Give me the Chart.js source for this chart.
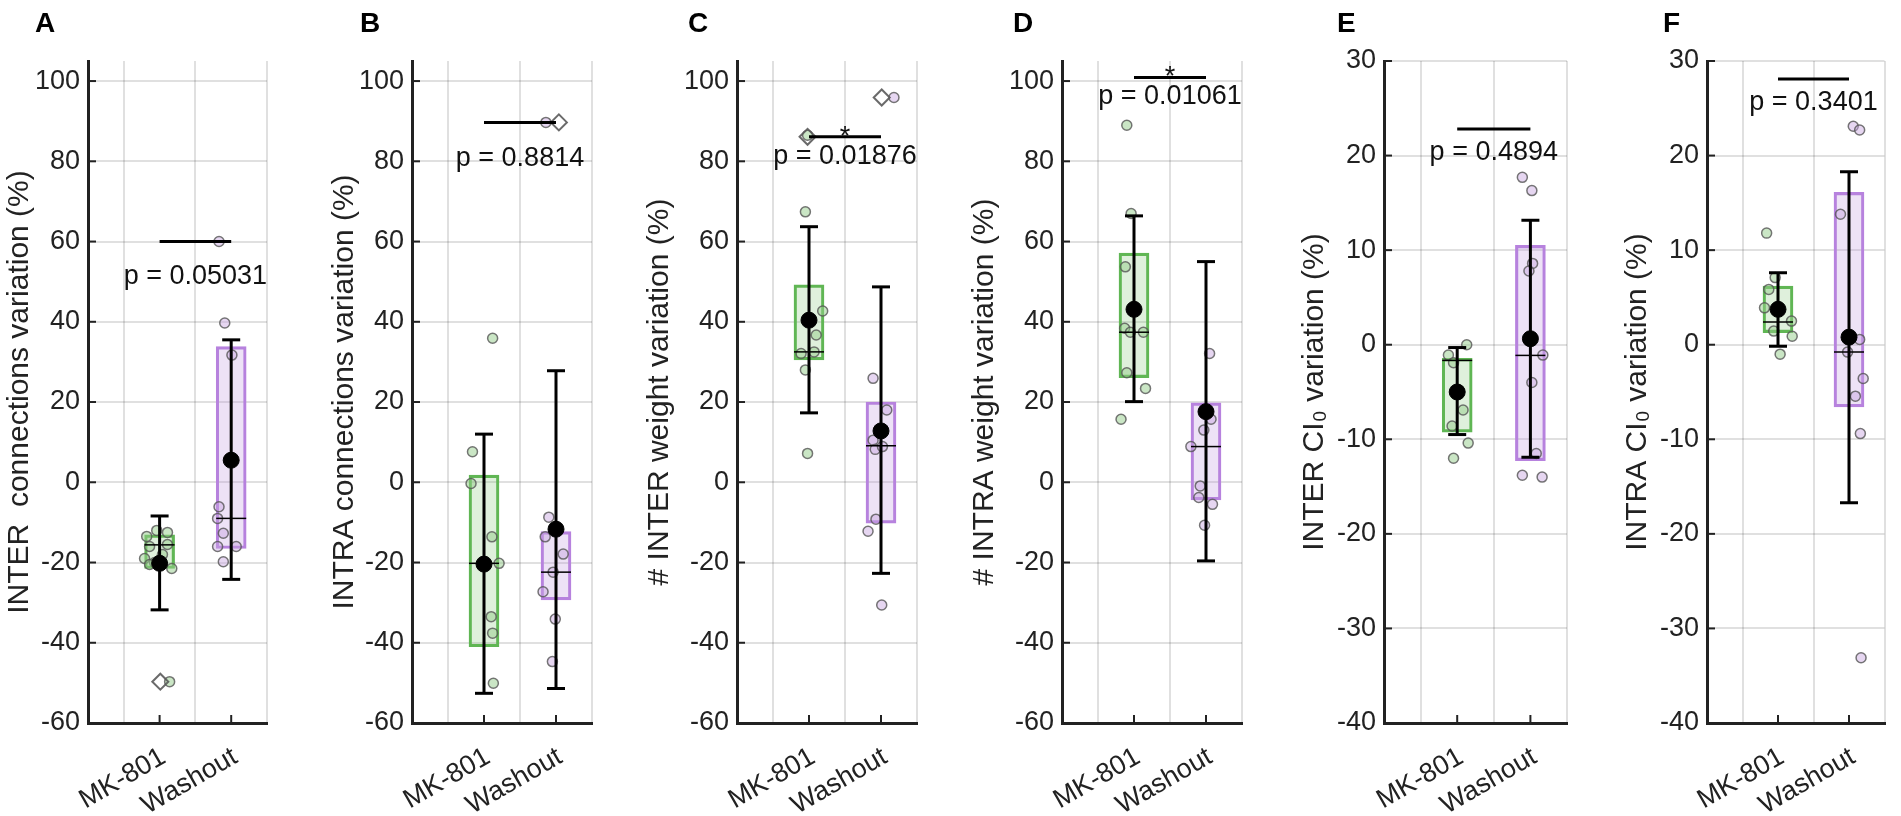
<!DOCTYPE html>
<html>
<head>
<meta charset="utf-8">
<script src="https://cdn.jsdelivr.net/npm/chart.js@4.4.0/dist/chart.umd.min.js"></script>
<style>
  html, body { margin: 0; padding: 0; background: #fff; width: 1901px; height: 816px; overflow: hidden; }
  canvas { position: absolute; top: 0; }
</style>
</head>
<body>
<canvas id="pA"></canvas>
<canvas id="pB"></canvas>
<canvas id="pC"></canvas>
<canvas id="pD"></canvas>
<canvas id="pE"></canvas>
<canvas id="pF"></canvas>
<script>
const groups = ["MK-801", "Washout"];
const panelLetters = ["A", "B", "C", "D", "E", "F"];
const yTitles = [
  "INTER  connections variation (%)",
  "INTRA connections variation (%)",
  "# INTER weight variation (%)",
  "# INTRA weight variation (%)",
  "INTER CI\u2080 variation (%)",
  "INTRA CI\u2080 variation (%)"
];
const yTicksWide = [-60, -40, -20, 0, 20, 40, 60, 80, 100];
const yTicksNarrow = [-40, -30, -20, -10, 0, 10, 20, 30];

// single animals: [jittered x, value]
const mkA = [[0.82,-13.5],[0.96,-12],[1.11,-12.5],[0.79,-19],[1.11,-15.5],[0.86,-16],[1.17,-21.5],[0.93,-20],[1.04,-18],[0.86,-20.5],[1.14,-49.7]];
const washA = [[1.83,60],[1.91,39.7],[2.01,31.7],[1.83,-6.1],[1.81,-9],[1.89,-12.7],[1.81,-16],[2.07,-16],[1.89,-19.8]];
const mkB = [[1.12,35.9],[0.84,7.6],[0.82,-0.3],[1.11,-13.6],[1.21,-20.2],[1.10,-33.5],[1.12,-37.6],[1.13,-50.1]];
const washB = [[1.86,89.7],[1.90,-8.7],[1.85,-13.6],[2.10,-17.9],[1.96,-22.4],[1.82,-27.3],[1.99,-34.1],[1.95,-44.7]];
const mkC = [[0.98,86.5],[0.95,67.4],[1.19,42.7],[1.10,36.7],[0.89,32.1],[1.07,32.5],[0.95,28],[0.98,7.2]];
const washC = [[2.18,95.9],[1.89,25.9],[2.08,18],[1.89,10.5],[1.92,8.2],[2.02,8.9],[1.93,-9.2],[1.82,-12.2],[2.01,-30.6]];
const mkD = [[0.90,89],[0.96,67],[0.88,53.7],[0.87,38.4],[0.95,37.4],[1.13,37.4],[0.90,27.3],[1.16,23.4],[0.82,15.7]];
const washD = [[2.05,32.1],[2.07,15.7],[1.97,13],[1.79,8.9],[1.92,-0.9],[1.90,-3.8],[2.09,-5.5],[1.98,-10.7]];
const mkE = [[1.13,0.0],[0.88,-1.1],[0.95,-1.9],[1.08,-6.9],[0.93,-8.6],[1.15,-10.4],[0.95,-12.0]];
const washE = [[1.89,17.7],[2.02,16.3],[2.03,8.6],[1.98,7.8],[2.17,-1.1],[2.02,-4.0],[2.08,-11.5],[1.89,-13.8],[2.16,-14.0]];
const mkF = [[0.84,11.8],[0.96,7.1],[0.87,5.85],[0.81,3.9],[1.19,2.5],[0.94,1.44],[1.20,0.9],[1.03,-1.0]];
const washF = [[2.06,23.1],[2.15,22.7],[1.88,13.8],[2.15,0.56],[1.98,-0.78],[2.20,-3.57],[2.09,-5.44],[2.16,-9.4],[2.17,-33.1]];

// outliers (diamonds)
const outA = [[1.01,-49.7]];
const outB = [[2.04,89.7]];
const outC = [[0.98,86.1],[2.01,95.9]];
const outD = [];
const outE = [];
const outF = [];

// per panel [MK-801, Washout]
const boxLow  = [[-21.5,-16.5],[-41,-29.3],[30.5,-10.2],[26.1,-4.4],[-9.25,-12.25],[1.27,-6.57]];
const boxHigh = [[-13.1,33.8],[1.8,-12.3],[49.2,20],[57.1,19.8],[-1.45,10.5],[6.2,16.1]];
const medians = [[-15.6,-9.0],[-20.2,-22.4],[32.5,9.1],[37.4,8.9],[-1.66,-1.13],[2.4,-0.78]];
const means   = [[-20.2,5.5],[-20.4,-11.7],[40.4,12.8],[43.1,17.6],[-5.0,0.63],[3.74,0.8]];
const sdLow   = [[-31.8,-24.2],[-52.6,-51.4],[17.3,-22.7],[20.1,-19.6],[-9.5,-11.9],[-0.15,-16.7]];
const sdHigh  = [[-8.4,35.5],[12.0,27.8],[63.7,48.7],[66.4,55.0],[-0.3,13.16],[7.62,18.3]];

const sigY = [60, 89.7, 86.1, 100.9, 22.8, 28.1];
const pValues = ["p = 0.05031", "p = 0.8814", "p = 0.01876", "p = 0.01061", "p = 0.4894", "p = 0.3401"];
const stars = [false, false, true, true, false, false];

const mkPts = [mkA, mkB, mkC, mkD, mkE, mkF];
const washPts = [washA, washB, washC, washD, washE, washF];
const outPts = [outA, outB, outC, outD, outE, outF];

// page layout (pixels) for each panel
const layout = [
  { id: "pA", left: 0,    width: 325, axis: 88,   right: 267,  letterX: 35, textY: 51.2, yMin: -60, yMax: 105, ticks: yTicksWide },
  { id: "pB", left: 325,  width: 315, axis: 412,  right: 592,  letterX: 35, textY: 80.8, yMin: -60, yMax: 105, ticks: yTicksWide },
  { id: "pC", left: 640,  width: 325, axis: 737,  right: 917,  letterX: 48, textY: 81.1, yMin: -60, yMax: 105, ticks: yTicksWide },
  { id: "pD", left: 965,  width: 330, axis: 1062, right: 1242, letterX: 48, textY: 96.1, yMin: -60, yMax: 105, ticks: yTicksWide },
  { id: "pE", left: 1295, width: 323, axis: 1384, right: 1567, letterX: 42, textY: 20.3, yMin: -40, yMax: 30,  ticks: yTicksNarrow },
  { id: "pF", left: 1618, width: 283, axis: 1707, right: 1892, letterX: 45, textY: 25.6, yMin: -40, yMax: 30,  ticks: yTicksNarrow }
];

const FONT = '"Liberation Sans", Arial, Helvetica, sans-serif';
const INK = "#222";
Chart.defaults.font.family = FONT;
Chart.defaults.color = INK;

const GREEN_EDGE = "rgb(96,182,84)";
const GREEN_FILL = "rgba(110,185,95,0.22)";
const PURPLE_EDGE = "rgb(183,130,222)";
const PURPLE_FILL = "rgba(185,140,220,0.25)";
const GREEN_DOT = "rgba(150,205,140,0.5)";
const PURPLE_DOT = "rgba(200,165,225,0.45)";
const DOT_EDGE = "rgba(85,85,85,0.8)";

// letters, p values, star and inward tick marks
const panelDeco = {
  id: "panelDeco",
  afterDraw(chart, args, o) {
    const { ctx, chartArea, scales: { x, y } } = chart;
    ctx.save();
    ctx.strokeStyle = INK;
    ctx.lineWidth = 2;
    y.ticks.forEach(t => {
      const py = y.getPixelForValue(t.value);
      ctx.beginPath();
      ctx.moveTo(chartArea.left, py);
      ctx.lineTo(chartArea.left + 8, py);
      ctx.stroke();
    });
    x.ticks.forEach(t => {
      const px = x.getPixelForValue(t.value);
      ctx.beginPath();
      ctx.moveTo(px, chartArea.bottom);
      ctx.lineTo(px, chartArea.bottom - 8);
      ctx.stroke();
    });

    ctx.fillStyle = "#000";
    ctx.textAlign = "left";
    ctx.textBaseline = "alphabetic";
    ctx.font = "bold 28px " + FONT;
    ctx.fillText(o.letter, o.letterX, 32);

    const cx = x.getPixelForValue(1.5);
    ctx.fillStyle = "#111";
    ctx.font = "27px " + FONT;
    ctx.textAlign = "center";
    ctx.textBaseline = "middle";
    ctx.fillText(o.p, cx, y.getPixelForValue(o.textY));
    if (o.star) {
      ctx.textBaseline = "alphabetic";
      ctx.fillText("*", cx, y.getPixelForValue(o.sigY) + 8);
    }
    ctx.restore();
  }
};

const toXY = arr => arr.map(p => ({ x: p[0], y: p[1] }));

function buildPanel(i) {
  const L = layout[i];
  const cv = document.getElementById(L.id);
  cv.width = L.width;
  cv.height = 816;
  cv.style.left = L.left + "px";
  cv.style.width = L.width + "px";
  cv.style.height = "816px";

  const errBar = g => ({
    type: "scatter",
    data: [{ x: g + 1, y: sdLow[i][g] }, { x: g + 1, y: sdHigh[i][g] }],
    showLine: true,
    borderColor: "#000",
    borderWidth: 3,
    pointStyle: "line",
    pointRadius: 9,
    pointBorderWidth: 3,
    pointBorderColor: "#000",
    order: 1
  });

  const datasets = [
    {
      type: "scatter",
      data: [{ x: 1, y: means[i][0] }, { x: 2, y: means[i][1] }],
      pointRadius: 8,
      backgroundColor: "#000",
      borderColor: "#000",
      order: 0
    },
    errBar(0),
    errBar(1),
    {
      type: "scatter",
      data: [{ x: 1, y: sigY[i] }, { x: 2, y: sigY[i] }],
      showLine: true,
      borderColor: "#000",
      borderWidth: 3,
      pointRadius: 0,
      order: 1
    },
    {
      type: "scatter",
      data: [{ x: 1, y: medians[i][0] }, { x: 2, y: medians[i][1] }],
      pointStyle: "line",
      pointRadius: 15,
      borderColor: "#000",
      borderWidth: 1.5,
      order: 2
    },
    {
      type: "scatter",
      data: toXY(outPts[i]),
      pointStyle: "rectRot",
      pointRadius: 8,
      borderColor: "rgba(90,90,90,0.9)",
      backgroundColor: "rgba(255,255,255,0)",
      borderWidth: 2,
      order: 3
    },
    {
      type: "scatter",
      data: toXY(mkPts[i]),
      pointRadius: 5,
      backgroundColor: GREEN_DOT,
      borderColor: DOT_EDGE,
      borderWidth: 1.5,
      order: 4
    },
    {
      type: "scatter",
      data: toXY(washPts[i]),
      pointRadius: 5,
      backgroundColor: PURPLE_DOT,
      borderColor: DOT_EDGE,
      borderWidth: 1.5,
      order: 4
    },
    {
      type: "bar",
      data: [{ x: 1, y: [boxLow[i][0], boxHigh[i][0]] }, { x: 2, y: [boxLow[i][1], boxHigh[i][1]] }],
      backgroundColor: [GREEN_FILL, PURPLE_FILL],
      borderColor: [GREEN_EDGE, PURPLE_EDGE],
      borderWidth: 2.5,
      borderSkipped: false,
      barThickness: 30,
      order: 5
    }
  ];

  new Chart(cv, {
    type: "scatter",
    data: { datasets },
    plugins: [panelDeco],
    options: {
      responsive: false,
      animation: false,
      layout: { padding: { top: 61, left: 0, bottom: 0, right: L.left + L.width - L.right } },
      plugins: {
        legend: { display: false },
        tooltip: { enabled: false },
        panelDeco: { letter: panelLetters[i], letterX: L.letterX, p: pValues[i], star: stars[i], sigY: sigY[i], textY: L.textY }
      },
      scales: {
        x: {
          type: "linear",
          min: 0,
          max: 2.5,
          offset: false,
          afterBuildTicks: s => { s.ticks = [1, 2].map(v => ({ value: v })); },
          afterFit: s => { s.height = 93; },
          grid: { color: "rgba(0,0,0,0.12)", lineWidth: 2, drawTicks: false },
          border: { color: INK, width: 3 },
          ticks: {
            callback: v => groups[v - 1],
            minRotation: 30,
            maxRotation: 30,
            autoSkip: false,
            padding: 18,
            labelOffset: 4,
            color: INK,
            font: { size: 27 }
          }
        },
        y: {
          type: "linear",
          min: L.yMin,
          max: L.yMax,
          afterBuildTicks: s => { s.ticks = L.ticks.map(v => ({ value: v })); },
          afterFit: s => { s.width = L.axis - L.left; },
          grid: { color: "rgba(0,0,0,0.12)", lineWidth: 2, drawTicks: false },
          border: { color: INK, width: 3 },
          ticks: { padding: 8, color: INK, font: { size: 27 } },
          title: { display: true, text: yTitles[i], color: INK, font: { size: 30 }, padding: { top: 2, bottom: 0 } }
        }
      }
    }
  });
}

layout.forEach((_, i) => buildPanel(i));
</script>
</body>
</html>
